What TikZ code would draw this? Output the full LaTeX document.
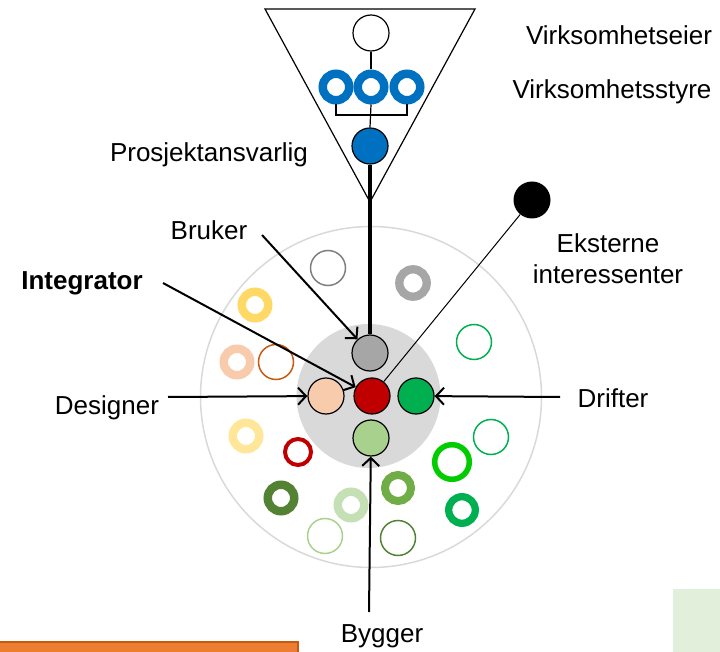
\documentclass[tikz,border=0pt]{standalone}
\usepackage{fontspec}
\setmainfont{Liberation Sans}
\usetikzlibrary{arrows.meta}
\definecolor{cblue}{HTML}{0070C0}
\definecolor{cgray}{HTML}{A6A6A6}
\definecolor{cdgray}{HTML}{7F7F7F}
\definecolor{cred}{HTML}{C00000}
\definecolor{cpeach}{HTML}{F8CBAD}
\definecolor{cgreen}{HTML}{00B050}
\definecolor{clgreen}{HTML}{A9D18E}
\definecolor{cvlgreen}{HTML}{C5E0B4}
\definecolor{cmgreen}{HTML}{70AD47}
\definecolor{cdgreen}{HTML}{548235}
\definecolor{cbgreen}{HTML}{00CC00}
\definecolor{cgold}{HTML}{FFD966}
\definecolor{clyellow}{HTML}{FFE699}
\definecolor{corange}{HTML}{C55A11}
\definecolor{cbar}{HTML}{ED7D31}
\definecolor{cbox}{HTML}{E2EFDA}
\definecolor{cdisk}{HTML}{D9D9D9}
\definecolor{couter}{HTML}{D9D9D9}
\begin{document}
\begin{tikzpicture}[x=1pt,y=-1pt,
  lbl/.style={font=\fontsize{26}{31}\selectfont, inner sep=0pt, text=black},
  dot/.style={circle, draw=black, line width=1.2pt, minimum size=36pt, inner sep=0pt},
  ring/.style={circle, inner sep=0pt, draw=#1},
  thinring/.style={circle, inner sep=0pt, draw=#1, line width=1.5pt, minimum size=35pt},
  fatring/.style={circle, inner sep=0pt, draw=#1, line width=8.5pt, minimum size=26.5pt},
  arr/.style={-{Straight Barb[length=8pt,width=17pt,line width=2pt]}, line width=2pt},
  conn/.style={line width=1.2pt}]
\useasboundingbox (0,0) rectangle (720,652);

% bottom decorations
\fill[cbox] (673,589) rectangle (720,652);
\draw[fill=cbar, draw=corange, line width=1.5pt] (-3,642) rectangle (298,656);

% outer circle and inner disk
\node[circle, draw=couter, line width=1.5pt, minimum size=341pt, inner sep=0pt] (outer) at (371,397) {};
\node[circle, fill=cdisk, minimum size=144pt, inner sep=0pt] (disk) at (368.5,396) {};

% triangle
\draw[conn] (265,9) -- (475,9) -- (370,202) -- cycle;

% top hierarchy
\node[dot, fill=white] (owner) at (371,33) {};
\node[fatring=cblue] (b1) at (336,87) {};
\node[fatring=cblue] (b2) at (371,87) {};
\node[fatring=cblue] (b3) at (407,87) {};
\node[dot, fill=cblue] (pa) at (370,146) {};
\coordinate (bk) at (371,115);
\draw[conn] (owner) -- (b2);
\draw[conn] (b1.south) |- (bk) -| (b3.south);
\draw[conn] (b2.south) -- (pa.north);

% core circles
\node[dot, fill=cgray] (bruk) at (370,353) {};
\node[dot, fill=cred] (integ) at (372,396) {};
\node[dot, fill=cpeach] (design) at (326,396) {};
\node[dot, fill=cgreen] (drift) at (416,396) {};
\node[dot, fill=clgreen] (bygg) at (371,438) {};

\draw[line width=3.5pt] (pa) -- (bruk);

% external
\node[circle, fill=black, minimum size=37pt, inner sep=0pt] (ext) at (532,200) {};
\draw[line width=1pt] (ext) -- (integ);

% surrounding rings
\node[thinring=cdgray] (r1) at (328,268) {};
\node[ring=cgray, line width=8.3pt, minimum size=27.4pt] (r2) at (413,283) {};
\node[fatring=cgold] (r3) at (255,305) {};
\node[fatring=cpeach] (r4) at (237,362) {};
\node[thinring=corange] (r5) at (276,362) {};
\node[thinring=cgreen] (r6) at (474,342) {};
\node[fatring=clyellow] (r7) at (246,436) {};
\node[ring=cred, line width=4pt, minimum size=26pt] (r8) at (298,452) {};
\node[thinring=cgreen] (r9) at (491,437) {};
\node[ring=cbgreen, line width=5.5pt, minimum size=34.6pt] (r10) at (452,462) {};
\node[fatring=cdgreen] (r11) at (281,498) {};
\node[fatring=cvlgreen] (r12) at (351,505) {};
\node[ring=cmgreen, line width=8pt, minimum size=26pt] (r13) at (398,488) {};
\node[ring=cgreen, line width=7.3pt, minimum size=26.6pt] (r14) at (462,510) {};
\node[thinring=clgreen] (r15) at (325,536) {};
\node[thinring=cdgreen] (r16) at (398,538) {};

% labels
\node[lbl] (lveier) at (619,35) {Virksomhetseier};
\node[lbl] (lstyre) at (612,92) {Virksomhetsstyre};
\node[lbl] (lpa) at (209,155) {Prosjektansvarlig};
\node[lbl] (lbruk) at (209,230) {Bruker};
\node[lbl, font=\fontsize{26}{31}\selectfont\bfseries] (linteg) at (82,283) {Integrator};
\node[lbl, align=center] (lext) at (608,259) {Eksterne\\interessenter};
\node[lbl] (ldesign) at (107,408) {Designer};
\node[lbl] (ldrift) at (613,398) {Drifter};
\node[lbl] (lbygg) at (382,636) {Bygger};

% arrows
\coordinate (sbruk) at (262,235);
\coordinate (sinteg) at (163,283);
\coordinate (sdesign) at (168,397);
\coordinate (sdrift) at (560,397);
\coordinate (sbygg) at (369,612);
\draw[arr] (sbruk) -- (bruk);
\draw[arr] (sinteg) -- (integ);
\draw[arr] (sdesign) -- (design);
\draw[arr] (sdrift) -- (drift);
\draw[arr] (sbygg) -- (bygg);
\end{tikzpicture}
\end{document}
